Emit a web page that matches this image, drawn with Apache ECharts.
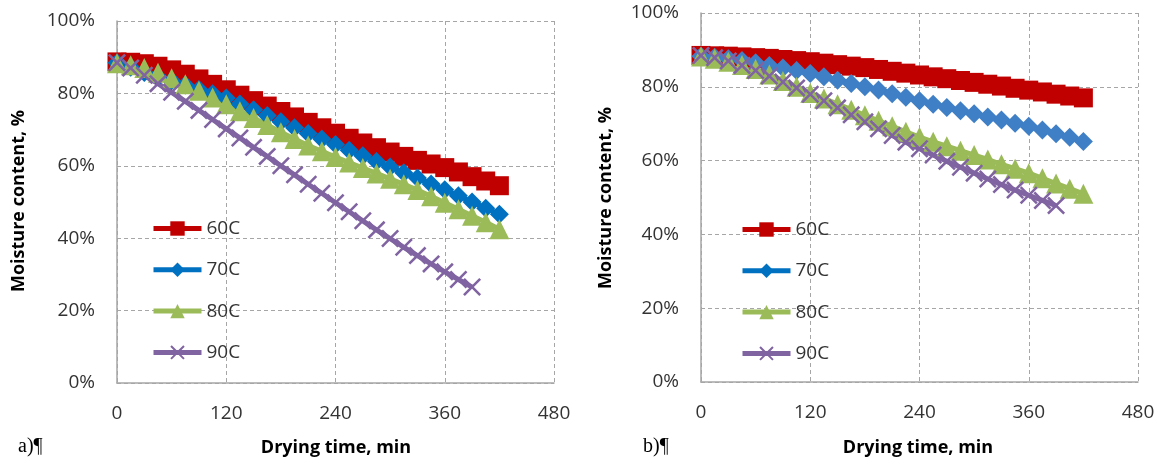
<!DOCTYPE html>
<html>
<head>
<meta charset="utf-8">
<script src="https://cdn.jsdelivr.net/npm/echarts@6/dist/echarts.min.js"></script>
<style>
html,body{margin:0;padding:0;background:#fff;}
#chart{width:1165px;height:465px;}
</style>
</head>
<body>
<div id="chart"></div>
<script>
// Drying time (min)
var times = [0,15,30,45,60,75,90,105,120,135,150,165,180,195,210,225,240,255,270,285,300,315,330,345,360,375,390,405,420];
var timesShort = [0,15,30,45,60,75,90,105,120,135,150,165,180,195,210,225,240,255,270,285,300,315,330,345,360,375,390];
var seriesNames = ['60C','70C','80C','90C'];
var xTicks = [0,120,240,360,480];
var yTicks = [0,20,40,60,80,100];

// Panel a) moisture content, %
var a60 = [88.7,88.6,88.2,87.5,86.5,85.3,84.0,82.5,81.0,79.5,78.0,76.5,75.0,73.5,72.0,70.5,69.0,67.6,66.3,65.0,63.8,62.6,61.5,60.5,59.5,58.3,57.0,55.8,54.5];
var a70 = [88.5,87.2,85.8,84.6,83.5,82.3,81.1,79.9,78.7,77.1,75.5,73.9,72.2,70.5,68.9,67.4,65.9,64.3,62.8,61.2,59.7,58.1,56.6,55.0,53.4,51.7,50.0,48.3,46.6];
var a80 = [88.3,87.8,87.0,85.7,84.2,82.5,80.7,78.9,77.0,75.1,73.2,71.3,69.3,67.4,65.6,64.0,62.4,60.9,59.4,57.9,56.4,54.9,53.3,51.6,49.8,48.0,46.2,44.4,42.5];
var a90 = [88.5,87.0,85.0,82.7,80.3,77.8,75.3,72.8,70.2,67.7,65.1,62.6,60.0,57.5,54.9,52.4,49.8,47.3,44.8,42.3,39.9,37.5,35.2,32.9,30.7,28.6,26.5];

// Panel b) moisture content, %
var b60 = [88.5,88.4,88.3,88.1,87.9,87.7,87.4,87.1,86.8,86.4,86.0,85.6,85.2,84.7,84.2,83.7,83.2,82.7,82.2,81.7,81.2,80.7,80.2,79.6,79.1,78.6,78.0,77.5,77.0];
var b70 = [88.3,88.0,87.6,87.1,86.5,85.8,85.1,84.4,83.6,82.7,81.8,80.9,80.0,79.1,78.1,77.2,76.2,75.3,74.4,73.5,72.7,71.8,71.0,70.1,69.3,68.3,67.3,66.3,65.2];
var b80 = [88.2,87.6,86.8,85.9,84.8,83.3,81.6,80.0,78.3,76.8,75.3,73.8,72.3,70.8,69.3,67.8,66.4,65.1,63.9,62.7,61.5,60.3,59.0,57.8,56.6,55.2,53.8,52.4,51.0];
var b90 = [88.5,87.9,87.0,85.8,84.4,82.9,81.3,79.7,78.0,76.2,74.3,72.4,70.5,68.6,66.8,65.0,63.2,61.5,59.8,58.2,56.6,55.0,53.5,52.0,50.6,49.2,47.8];

function pairs(t, v){ return v.map(function(y,i){ return [t[i], y]; }); }

var FONT = '"Open Sans", "Liberation Sans", sans-serif';
var xPath = 'path://M0,2 L2,0 L10,8 L18,0 L20,2 L12,10 L20,18 L18,20 L10,12 L2,20 L0,18 L8,10 Z';
var colors = {r:'#C00000', bA:'#0070C0', bB:'#3F7FC6', g:'#9BBB59', p:'#8064A2'};

function mkSeries(idx, name, data, color, symbol, size){
  return {
    type:'line', name:name, xAxisIndex:idx, yAxisIndex:idx,
    data:data, symbol:symbol, symbolSize:size, showSymbol:true,
    itemStyle:{color:color}, lineStyle:{color:color, width:5},
    animation:false, silent:true
  };
}

function mkX(idx){
  return {
    type:'value', gridIndex:idx, min:0, max:480, interval:120,
    axisLine:{show:true, lineStyle:{color:'#A6A6A6', width:1.5}},
    axisTick:{show:false},
    splitLine:{show:true, lineStyle:{color:'#A6A6A6', type:[4,3], width:1}},
    axisLabel:{margin:21, fontSize:19, color:'#333', fontFamily:FONT,
      formatter:function(v){ return xTicks.indexOf(v)>=0 ? String(v) : ''; }}
  };
}
function mkY(idx, margin){
  return {
    type:'value', gridIndex:idx, min:0, max:100, interval:20,
    axisLine:{show:true, lineStyle:{color:'#A6A6A6', width:1.5}},
    axisTick:{show:false},
    splitLine:{show:true, lineStyle:{color:'#A6A6A6', type:[4,3], width:1}},
    axisLabel:{margin:margin, fontSize:19, color:'#333', fontFamily:FONT,
      formatter:function(v){ return yTicks.indexOf(v)>=0 ? v + '%' : ''; }}
  };
}

var chart = echarts.init(document.getElementById('chart'), null, {renderer:'canvas'});
var legendCommon = {
  orient:'vertical', itemWidth:48, itemHeight:18, itemGap:22.3, padding:0,
  lineStyle:{width:5},
  textStyle:{fontSize:19, color:'#333', fontFamily:FONT},
  data:seriesNames, selectedMode:false
};
chart.setOption({
  backgroundColor:'#fff',
  animation:false,
  grid:[
    {left:117, top:21, width:437, height:362},
    {left:701, top:13, width:437, height:369}
  ],
  xAxis:[mkX(0), mkX(1)],
  yAxis:[mkY(0, 22), mkY(1, 22)],
  legend:[
    Object.assign({left:151, top:219}, legendCommon),
    Object.assign({left:740, top:220}, legendCommon)
  ],
  series:[
    mkSeries(0, '60C', pairs(times, a60), colors.r, 'rect', 19),
    mkSeries(0, '70C', pairs(times, a70), colors.bA, 'diamond', 19),
    mkSeries(0, '80C', pairs(times, a80), colors.g, 'triangle', 20),
    mkSeries(0, '90C', pairs(timesShort, a90), colors.p, xPath, 18),
    mkSeries(1, '60C', pairs(times, b60), colors.r, 'rect', 19),
    mkSeries(1, '70C', pairs(times, b70), colors.bB, 'diamond', 19),
    mkSeries(1, '80C', pairs(times, b80), colors.g, 'triangle', 20),
    mkSeries(1, '90C', pairs(timesShort, b90), colors.p, xPath, 18)
  ],
  graphic:[
    {type:'text', x:19, y:201, rotation:Math.PI/2,
      style:{text:'Moisture content, %', font:'bold 18px ' + FONT, fill:'#000', textAlign:'center', textVerticalAlign:'middle'}},
    {type:'text', x:606, y:198, rotation:Math.PI/2,
      style:{text:'Moisture content, %', font:'bold 18px ' + FONT, fill:'#000', textAlign:'center', textVerticalAlign:'middle'}},
    {type:'text', x:336, y:448,
      style:{text:'Drying time, min', font:'bold 18px ' + FONT, fill:'#000', textAlign:'center', textVerticalAlign:'middle'}},
    {type:'text', x:918, y:448,
      style:{text:'Drying time, min', font:'bold 18px ' + FONT, fill:'#000', textAlign:'center', textVerticalAlign:'middle'}},
    {type:'text', x:18, y:447,
      style:{text:'a)¶', font:'20px "Liberation Serif", "DejaVu Serif", serif', fill:'#000', textAlign:'left', textVerticalAlign:'middle'}},
    {type:'text', x:643, y:447,
      style:{text:'b)¶', font:'20px "Liberation Serif", "DejaVu Serif", serif', fill:'#000', textAlign:'left', textVerticalAlign:'middle'}}
  ]
});
</script>
</body>
</html>
